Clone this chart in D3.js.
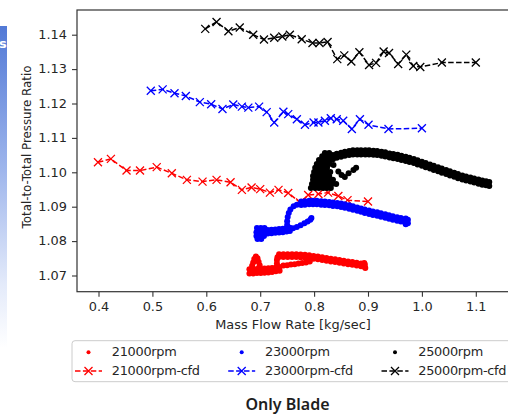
<!DOCTYPE html>
<html>
<head>
<meta charset="utf-8">
<script src="https://cdn.jsdelivr.net/npm/d3@7"></script>
<style>
  html, body { margin: 0; padding: 0; background: #fff; }
  svg { display: block; font-family: "DejaVu Sans", sans-serif; }
</style>
</head>
<body>
<svg id="chart" width="508" height="414"></svg>
<script>
// ---- axis ticks ----
const xTicks = [0.4, 0.5, 0.6, 0.7, 0.8, 0.9, 1.0, 1.1];
const yTicks = [1.07, 1.08, 1.09, 1.10, 1.11, 1.12, 1.13, 1.14];

// ---- legend labels ----
const legendLabels = ["21000rpm", "21000rpm-cfd", "23000rpm", "23000rpm-cfd", "25000rpm", "25000rpm-cfd"];

// ---- measured operating points [mass flow kg/s, total-to-total PR] ----
const rpm21000 = [
  [0.680,1.0706],[0.680,1.0718],[0.687,1.0706],[0.687,1.0718],[0.694,1.0707],[0.694,1.0719],
  [0.701,1.0707],[0.701,1.0719],[0.708,1.0708],[0.708,1.0720],[0.715,1.0709],[0.715,1.0721],
  [0.722,1.0710],[0.722,1.0722],[0.729,1.0712],[0.729,1.0723],[0.736,1.0714],[0.736,1.0725],
  [0.685,1.0728],[0.687,1.0738],[0.689,1.0748],[0.692,1.0755],[0.695,1.0750],[0.697,1.0740],[0.699,1.0730],
  [0.743,1.0729],[0.750,1.0730],[0.757,1.0732],[0.764,1.0733],[0.771,1.0735],[0.778,1.0736],[0.785,1.0738],[0.792,1.0741],
  [0.731,1.0735],[0.731,1.0745],[0.732,1.0753],
  [0.735,1.0762],[0.735,1.0754],[0.743,1.0762],[0.743,1.0754],[0.751,1.0762],[0.751,1.0754],
  [0.759,1.0762],[0.759,1.0754],[0.767,1.0762],[0.767,1.0754],[0.775,1.0761],[0.775,1.0753],
  [0.783,1.0760],[0.783,1.0752],[0.791,1.0759],[0.791,1.0751],[0.799,1.0757],[0.799,1.0749],
  [0.807,1.0755],[0.807,1.0747],[0.815,1.0753],[0.815,1.0745],[0.823,1.0751],[0.823,1.0743],
  [0.831,1.0749],[0.831,1.0741],[0.839,1.0747],[0.839,1.0739],[0.847,1.0745],[0.847,1.0737],
  [0.855,1.0743],[0.855,1.0735],[0.863,1.0741],[0.863,1.0733],[0.871,1.0739],[0.871,1.0731],
  [0.879,1.0737],[0.879,1.0729],[0.887,1.0735],[0.887,1.0727],[0.894,1.0733],[0.894,1.0725],
  [0.895,1.0722],[0.893,1.0736]
];

const rpm23000 = [
  [0.694,1.0838],[0.701,1.0838],[0.708,1.0838],
  [0.693,1.0826],[0.700,1.0826],[0.707,1.0826],
  [0.693,1.0815],[0.700,1.0815],[0.707,1.0815],
  [0.695,1.0806],[0.702,1.0806],
  [0.714,1.0832],[0.714,1.0822],[0.721,1.0833],[0.721,1.0823],[0.728,1.0834],[0.728,1.0824],
  [0.735,1.0835],[0.735,1.0825],[0.742,1.0836],[0.742,1.0826],[0.749,1.0838],[0.749,1.0828],
  [0.755,1.0839],[0.755,1.0829],
  [0.761,1.0837],[0.768,1.0841],[0.775,1.0846],[0.782,1.0852],[0.788,1.0857],[0.793,1.0862],[0.795,1.0867],
  [0.750,1.0847],[0.750,1.0858],[0.751,1.0870],[0.753,1.0882],[0.756,1.0892],[0.762,1.0901],[0.768,1.0906],
  [0.776,1.0915],[0.776,1.0905],[0.783,1.0916],[0.783,1.0906],[0.791,1.0917],[0.791,1.0907],
  [0.798,1.0917],[0.798,1.0907],[0.805,1.0917],[0.805,1.0907],[0.813,1.0916],[0.813,1.0906],
  [0.820,1.0915],[0.820,1.0905],[0.828,1.0914],[0.828,1.0904],[0.835,1.0912],[0.835,1.0902],
  [0.843,1.0911],[0.843,1.0901],[0.850,1.0909],[0.850,1.0899],[0.857,1.0907],[0.857,1.0897],
  [0.865,1.0904],[0.865,1.0894],[0.872,1.0901],[0.872,1.0891],[0.880,1.0898],[0.880,1.0888],
  [0.887,1.0895],[0.887,1.0885],[0.894,1.0892],[0.894,1.0882],[0.902,1.0889],[0.902,1.0879],
  [0.909,1.0886],[0.909,1.0876],[0.917,1.0884],[0.917,1.0874],[0.924,1.0881],[0.924,1.0871],
  [0.932,1.0878],[0.932,1.0868],[0.939,1.0875],[0.939,1.0865],[0.946,1.0872],[0.946,1.0862],
  [0.954,1.0869],[0.954,1.0859],[0.961,1.0867],[0.961,1.0857],[0.969,1.0864],[0.969,1.0854],
  [0.974,1.0862],[0.974,1.0852],[0.970,1.0849],[0.970,1.0866]
];

const rpm25000 = [
  [0.794,1.0954],[0.802,1.0954],[0.809,1.0954],[0.817,1.0954],[0.824,1.0954],[0.831,1.0954],
  [0.796,1.0966],[0.804,1.0966],[0.811,1.0966],[0.818,1.0966],[0.826,1.0966],[0.833,1.0966],[0.841,1.0966],
  [0.798,1.0978],[0.805,1.0978],[0.813,1.0978],[0.820,1.0978],[0.828,1.0978],[0.835,1.0978],
  [0.798,1.0989],[0.805,1.0989],[0.813,1.0989],[0.820,1.0989],[0.828,1.0989],
  [0.800,1.1001],[0.807,1.1001],[0.815,1.1001],[0.822,1.1001],[0.830,1.1001],
  [0.802,1.1013],[0.809,1.1013],[0.817,1.1013],[0.824,1.1013],
  [0.805,1.1024],[0.813,1.1024],[0.820,1.1024],[0.828,1.1024],
  [0.809,1.1036],[0.817,1.1036],[0.824,1.1036],[0.831,1.1036],
  [0.815,1.1047],[0.822,1.1047],[0.830,1.1047],
  [0.820,1.1056],[0.828,1.1056],
  [0.836,1.1021],[0.845,1.1002],[0.851,1.0992],[0.857,1.0986],[0.864,1.0997],[0.873,1.1007],[0.878,1.1013],
  [0.835,1.1050],[0.835,1.1038],[0.842,1.1054],[0.842,1.1042],[0.850,1.1057],[0.850,1.1045],
  [0.857,1.1060],[0.857,1.1048],[0.865,1.1062],[0.865,1.1050],[0.872,1.1064],[0.872,1.1052],
  [0.880,1.1064],[0.880,1.1052],[0.887,1.1064],[0.887,1.1052],[0.895,1.1064],[0.895,1.1052],
  [0.902,1.1064],[0.902,1.1052],[0.910,1.1063],[0.910,1.1051],[0.917,1.1062],[0.917,1.1050],
  [0.925,1.1060],[0.925,1.1048],[0.932,1.1058],[0.932,1.1046],[0.940,1.1055],[0.940,1.1043],
  [0.947,1.1053],[0.947,1.1041],[0.955,1.1051],[0.955,1.1039],[0.962,1.1048],[0.962,1.1036],
  [0.970,1.1045],[0.970,1.1033],[0.977,1.1042],[0.977,1.1030],[0.985,1.1039],[0.985,1.1027],
  [0.992,1.1035],[0.992,1.1023],[1.000,1.1031],[1.000,1.1019],[1.007,1.1027],[1.007,1.1015],
  [1.015,1.1023],[1.015,1.1011],[1.022,1.1019],[1.022,1.1007],[1.030,1.1015],[1.030,1.1003],
  [1.037,1.1011],[1.037,1.0999],[1.045,1.1007],[1.045,1.0995],[1.052,1.1003],[1.052,1.0991],
  [1.060,1.0999],[1.060,1.0987],[1.067,1.0995],[1.067,1.0983],[1.075,1.0991],[1.075,1.0979],
  [1.082,1.0988],[1.082,1.0976],[1.090,1.0985],[1.090,1.0973],[1.097,1.0982],[1.097,1.0970],
  [1.105,1.0979],[1.105,1.0967],[1.112,1.0976],[1.112,1.0964],[1.119,1.0974],[1.119,1.0962],
  [1.125,1.0972],[1.125,1.0960]
];

// ---- CFD predictions [mass flow kg/s, total-to-total PR] ----
const cfd21000 = [
  [0.399,1.1029],[0.423,1.1039],[0.452,1.1005],[0.477,1.1005],[0.508,1.1015],[0.536,1.0997],
  [0.564,1.0978],[0.593,1.0973],[0.619,1.0978],[0.645,1.0971],[0.666,1.0949],[0.684,1.0956],
  [0.700,1.0951],[0.718,1.0941],[0.734,1.0949],[0.752,1.0940],[0.774,1.0912],[0.789,1.0934],
  [0.808,1.0937],[0.826,1.0941],[0.845,1.0931],[0.862,1.0919],[0.900,1.0915]
];
const cfd23000 = [
  [0.497,1.1237],[0.519,1.1241],[0.541,1.1230],[0.562,1.1222],[0.588,1.1204],[0.609,1.1198],
  [0.630,1.1184],[0.650,1.1197],[0.666,1.1191],[0.678,1.1188],[0.698,1.1191],[0.712,1.1175],
  [0.726,1.1145],[0.743,1.1176],[0.752,1.1169],[0.768,1.1154],[0.783,1.1138],[0.799,1.1145],
  [0.808,1.1145],[0.820,1.1150],[0.831,1.1157],[0.842,1.1154],[0.854,1.1150],[0.870,1.1126],
  [0.885,1.1154],[0.901,1.1138],[0.938,1.1126],[1.000,1.1128]
];
const cfd25000 = [
  [0.598,1.1417],[0.619,1.1437],[0.641,1.1410],[0.662,1.1421],[0.687,1.1400],[0.707,1.1386],
  [0.726,1.1391],[0.741,1.1395],[0.755,1.1400],[0.777,1.1387],[0.797,1.1376],[0.810,1.1376],
  [0.825,1.1379],[0.843,1.1329],[0.856,1.1340],[0.869,1.1322],[0.884,1.1349],[0.902,1.1312],
  [0.915,1.1318],[0.929,1.1351],[0.939,1.1347],[0.956,1.1315],[0.971,1.1342],[0.984,1.1309],
  [0.997,1.1306],[1.037,1.1319],[1.100,1.1319]
];

const colors = { r21: "#ff0000", r23: "#0000ff", r25: "#000000" };

// ---- layout ----
const svg = d3.select("#chart");
const plot = { left: 77, right: 509, top: 10, bottom: 291.7 };
const FS = 12.9;          // label font size
const SQ = 0.915;         // vertical compression of the figure's lettering
const textColor = "#262626";

const x = d3.scaleLinear().domain([0.3601, 1.1616]).range([plot.left, plot.right]);
const y = d3.scaleLinear().domain([1.06529, 1.14718]).range([plot.bottom, plot.top]);

// side panel strip on the far left
const defs = svg.append("defs");
const grad = defs.append("linearGradient").attr("id", "stripGrad")
  .attr("x1", 0).attr("y1", 0).attr("x2", 0).attr("y2", 1);
grad.append("stop").attr("offset", "0%").attr("stop-color", "#5279d6");
grad.append("stop").attr("offset", "45%").attr("stop-color", "#9fb6ec");
grad.append("stop").attr("offset", "80%").attr("stop-color", "#e3eafa");
grad.append("stop").attr("offset", "100%").attr("stop-color", "#ffffff");
svg.append("rect").attr("x", 0).attr("y", 26).attr("width", 7).attr("height", 322)
  .attr("fill", "url(#stripGrad)");
svg.append("text").attr("x", -1).attr("y", 48).attr("fill", "#fff")
  .attr("font-size", 13).attr("font-weight", "bold").text("s");

// clip for marks
defs.append("clipPath").attr("id", "plotClip").append("rect")
  .attr("x", plot.left).attr("y", plot.top)
  .attr("width", plot.right - plot.left).attr("height", plot.bottom - plot.top);

const marks = svg.append("g").attr("clip-path", "url(#plotClip)");

const crossPath = "M-4,-4L4,4M-4,4L4,-4";
const line = d3.line().x(d => x(d[0])).y(d => y(d[1]));

function drawDots(data, color) {
  marks.append("g").selectAll("circle").data(data).join("circle")
    .attr("cx", d => x(d[0])).attr("cy", d => y(d[1]))
    .attr("r", 3).attr("fill", color);
}
function drawCfd(data, color) {
  const g = marks.append("g");
  g.append("path").datum(data).attr("d", line)
    .attr("fill", "none").attr("stroke", color).attr("stroke-width", 1.5)
    .attr("stroke-dasharray", "5.5,2.4");
  g.selectAll("path.mk").data(data).join("path").attr("class", "mk")
    .attr("transform", d => `translate(${x(d[0])},${y(d[1])})`)
    .attr("d", crossPath).attr("fill", "none").attr("stroke", color).attr("stroke-width", 1.3);
}

drawDots(rpm21000, colors.r21);
drawCfd(cfd21000, colors.r21);
drawDots(rpm23000, colors.r23);
drawCfd(cfd23000, colors.r23);
drawDots(rpm25000, colors.r25);
drawCfd(cfd25000, colors.r25);

// ---- axes ----
const xAxis = svg.append("g").attr("transform", `translate(0,${plot.bottom})`)
  .call(d3.axisBottom(x).tickValues(xTicks).tickFormat(d3.format(".1f"))
    .tickSize(5).tickSizeOuter(0).tickPadding(7));
const yAxis = svg.append("g").attr("transform", `translate(${plot.left},0)`)
  .call(d3.axisLeft(y).tickValues(yTicks).tickFormat(d3.format(".2f"))
    .tickSize(5).tickSizeOuter(0).tickPadding(5));
[xAxis, yAxis].forEach(a => {
  a.select(".domain").remove();
  a.selectAll("line").attr("stroke", "#333").attr("stroke-width", 1.1);
  a.selectAll("text").attr("fill", textColor).attr("font-size", FS)
    .attr("font-family", "DejaVu Sans, sans-serif")
    .attr("transform", `scale(1,${SQ})`);
});

// frame
svg.append("rect").attr("x", plot.left).attr("y", plot.top)
  .attr("width", plot.right - plot.left).attr("height", plot.bottom - plot.top)
  .attr("fill", "none").attr("stroke", "#333").attr("stroke-width", 1.2);

// helper: squeezed text at a point
function label(parent, tx, ty, str, anchor, extra) {
  return parent.append("text")
    .attr("transform", `translate(${tx},${ty}) scale(1,${SQ})${extra || ""}`)
    .attr("text-anchor", anchor || "start")
    .attr("font-size", FS).attr("fill", textColor).text(str);
}

// axis titles
label(svg, (plot.left + plot.right) / 2, 328.8, "Mass Flow Rate [kg/sec]", "middle");
label(svg, 31, 147, "Total-to-Total Pressure Ratio", "middle", " rotate(-90)");

// ---- legend ----
const legend = svg.append("g");
legend.append("rect").attr("x", 72).attr("y", 340.7).attr("width", 460).attr("height", 41)
  .attr("rx", 3).attr("fill", "#fff").attr("stroke", "#cccccc").attr("stroke-width", 1);

const legendItems = [
  { label: legendLabels[0], color: colors.r21, kind: "dot", col: 0, row: 0 },
  { label: legendLabels[1], color: colors.r21, kind: "cfd", col: 0, row: 1 },
  { label: legendLabels[2], color: colors.r23, kind: "dot", col: 1, row: 0 },
  { label: legendLabels[3], color: colors.r23, kind: "cfd", col: 1, row: 1 },
  { label: legendLabels[4], color: colors.r25, kind: "dot", col: 2, row: 0 },
  { label: legendLabels[5], color: colors.r25, kind: "cfd", col: 2, row: 1 }
];
const colCenters = [88.5, 241.7, 395];
const rowCenters = [352.3, 371];
const rowBaselines = [356.3, 374.9];
legendItems.forEach(it => {
  const cx = colCenters[it.col], cy = rowCenters[it.row];
  if (it.kind === "dot") {
    legend.append("circle").attr("cx", cx).attr("cy", cy).attr("r", 2).attr("fill", it.color);
  } else {
    legend.append("line").attr("x1", cx - 13.5).attr("x2", cx + 13.5).attr("y1", cy).attr("y2", cy)
      .attr("stroke", it.color).attr("stroke-width", 1.5).attr("stroke-dasharray", "5.5,2.4");
    legend.append("path").attr("transform", `translate(${cx},${cy})`).attr("d", crossPath)
      .attr("fill", "none").attr("stroke", it.color).attr("stroke-width", 1.3);
  }
  label(legend, cx + 23.3, rowBaselines[it.row], it.label).attr("letter-spacing", -0.3);
});

// ---- caption ----
svg.append("text").attr("x", 287.5).attr("y", 409.5)
  .attr("text-anchor", "middle").attr("font-family", "'Noto Sans', sans-serif")
  .attr("font-size", 16).attr("font-weight", 600).attr("fill", "#1e1e1e")
  .text("Only Blade");
</script>
</body>
</html>
